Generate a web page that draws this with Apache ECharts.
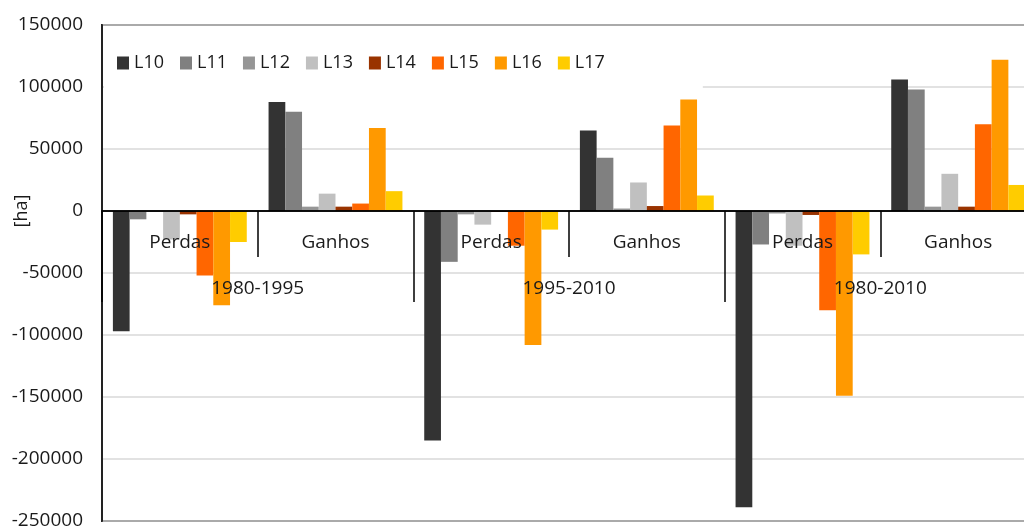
<!DOCTYPE html>
<html>
<head>
<meta charset="utf-8">
<script src="https://cdn.jsdelivr.net/npm/echarts@6/dist/echarts.min.js"></script>
<style>
  html, body { margin: 0; padding: 0; background: #fff; }
  #chart { width: 1024px; height: 526px; }
</style>
</head>
<body>
<div id="chart"></div>
<script>
// categories: losses / gains for each period
const categories = ["Perdas", "Ganhos", "Perdas", "Ganhos", "Perdas", "Ganhos"];
const periods = ["1980-1995", "1995-2010", "1980-2010"];
const seriesNames = ["L10", "L11", "L12", "L13", "L14", "L15", "L16", "L17"];

// values in ha, order: P1, G1, P2, G2, P3, G3
const L10 = [-97000, 88000, -185000, 65000, -239000, 106000];
const L11 = [-6700, 80000, -41000, 43000, -27000, 98000];
const L12 = [-300, 3500, -2700, 2000, -2000, 3500];
const L13 = [-23000, 14000, -11000, 23000, -28000, 30000];
const L14 = [-2700, 3500, -800, 4000, -3200, 3500];
const L15 = [-52000, 6000, -28000, 69000, -80000, 70000];
const L16 = [-76000, 67000, -108000, 90000, -149000, 122000];
const L17 = [-25000, 16000, -15000, 12500, -35000, 21000];

const yTicks = { min: -250000, max: 150000, step: 50000 };

const values = [L10, L11, L12, L13, L14, L15, L16, L17];
const colors = ["#333333", "#808080", "#969696", "#c0c0c0", "#993300", "#ff6600", "#ff9900", "#ffcc00"];

const font = "'Open Sans', 'Liberation Sans', sans-serif";
const ink = "#1a1a1a";

const gridTop = 25;
const gridHeight = 496;
// distance from the bottom of the plot up to the zero line
const zeroOffset = -gridHeight * (0 - yTicks.min) / (yTicks.max - yTicks.min);
// the unit label sits level with zero, not at the middle of the axis
const nameShift = gridHeight / 2 + zeroOffset;

const chart = echarts.init(document.getElementById("chart"), null, { renderer: "canvas" });

chart.setOption({
  animation: false,
  color: colors,
  grid: {
    left: 102,
    top: gridTop,
    width: 934,
    height: gridHeight,
    containLabel: false,
    outerBoundsMode: "none",
    show: true,
    borderColor: "#222",
    borderWidth: 2,
    backgroundColor: "transparent",
  },
  legend: {
    data: seriesNames,
    left: 104,
    top: 40,
    padding: [14, 98, 18, 13],
    backgroundColor: "#fff",
    icon: "rect",
    itemWidth: 12,
    itemHeight: 13,
    itemGap: 16,
    textStyle: {
      color: ink,
      fontFamily: font,
      fontSize: 18,
      width: 30,
    },
  },
  xAxis: [
    {
      type: "category",
      data: categories,
      position: "bottom",
      offset: zeroOffset,
      z: 5,
      axisLine: { onZero: false, lineStyle: { color: "#000", width: 1.5 } },
      axisTick: { show: true, length: 46, interval: 0, lineStyle: { color: "#000", width: 1.5 } },
      axisLabel: { interval: 0, margin: 22, color: ink, fontFamily: font, fontSize: 19, hideOverlap: false },
      splitLine: { show: false },
    },
    {
      type: "category",
      data: periods,
      position: "bottom",
      offset: zeroOffset,
      z: 5,
      axisLine: { onZero: false, lineStyle: { color: "#000", width: 1.5 } },
      axisTick: { show: true, length: 91, interval: 0, lineStyle: { color: "#000", width: 1.5 } },
      axisLabel: { interval: 0, margin: 68, color: ink, fontFamily: font, fontSize: 19, hideOverlap: false },
      splitLine: { show: false },
    },
  ],
  yAxis: {
    type: "value",
    min: yTicks.min,
    max: yTicks.max,
    interval: yTicks.step,
    name: "[ha]",
    nameLocation: "middle",
    nameGap: 71,
    nameRotate: 90,
    nameMoveOverlap: false,
    nameTextStyle: {
      color: ink,
      fontFamily: font,
      fontSize: 18,
      padding: [0, 0, 0, -2 * nameShift],
    },
    axisLine: { show: true, lineStyle: { color: "#222", width: 2 } },
    axisTick: { show: false },
    axisLabel: { color: ink, fontFamily: font, fontSize: 19, margin: 19, formatter: (v) => String(v) },
    splitLine: { lineStyle: { color: "#d9d9d9", width: 1.5 } },
  },
  series: seriesNames.map((name, i) => ({
    name,
    type: "bar",
    xAxisIndex: 0,
    data: values[i],
    barGap: "0%",
    barCategoryGap: "14%",
    itemStyle: { color: colors[i] },
  })),
});
</script>
</body>
</html>
